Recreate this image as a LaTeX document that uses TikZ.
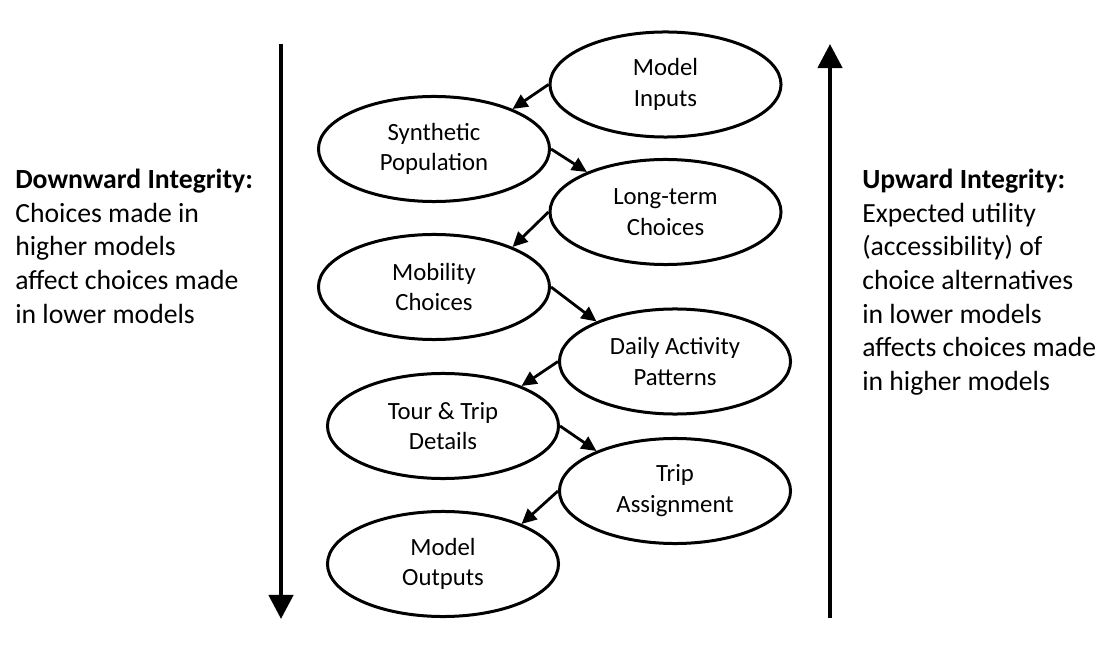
\documentclass[tikz,border=0pt]{standalone}
\usepackage{fontspec}
\setmainfont{Carlito}
\usetikzlibrary{shapes.geometric,arrows.meta}
\begin{document}
\begin{tikzpicture}[x=0.025cm,y=-0.025cm]
  \useasboundingbox (0,0) rectangle (1112,649);

  \begin{scope}[every node/.style={ellipse, draw, line width=0.075cm, minimum width=5.775cm, minimum height=2.625cm, align=center, font=\fontsize{17.6}{21.9}\selectfont}]
    \node (0) at (665.5,84.5) {Model\\Inputs};
    \node (1) at (434,149) {Synthetic\\Population};
    \node (2) at (665.5,212) {Long-term\\Choices};
    \node (3) at (434,287) {Mobility\\Choices};
    \node (4) at (675,361.5) {Daily Activity\\Patterns};
    \node (5) at (443,426) {Tour \& Trip\\Details};
    \node (6) at (675,491) {Trip\\Assignment};
    \node (7) at (443,564) {Model\\Outputs};
  \end{scope}

  \begin{scope}[->,>={Triangle[length=0.375cm,width=0.35cm]}, line width=0.07cm]
    \draw (0.west) to (1.27);
    \draw (1.east) to (2.153);
    \draw (2.west) to (3.27);
    \draw (3.east) to (4.153);
    \draw (4.west) to (5.27);
    \draw (5.east) to (6.153);
    \draw (6.west) to (7.27);
  \end{scope}

  % integrity arrows
  \coordinate (dtop) at (281,44);
  \coordinate (dbot) at (281,619);
  \coordinate (utop) at (830,44);
  \coordinate (ubot) at (830,618);
  \begin{scope}[->,>={Triangle[length=0.6cm,width=0.6cm]}, line width=0.11cm]
    \draw (dtop) to (dbot);
    \draw (ubot) to (utop);
  \end{scope}

  \begin{scope}[every node/.style={anchor=north west, align=left, inner sep=0pt, font=\fontsize{19.7}{23.9}\selectfont}]
    \node (down) at (15,169) {\textbf{Downward Integrity:}\\Choices made in\\higher models\\affect choices made\\in lower models};
    \node (up) at (862,169) {\textbf{Upward Integrity:}\\Expected utility\\(accessibility) of\\choice alternatives\\in lower models\\affects choices made\\in higher models};
  \end{scope}
\end{tikzpicture}
\end{document}
